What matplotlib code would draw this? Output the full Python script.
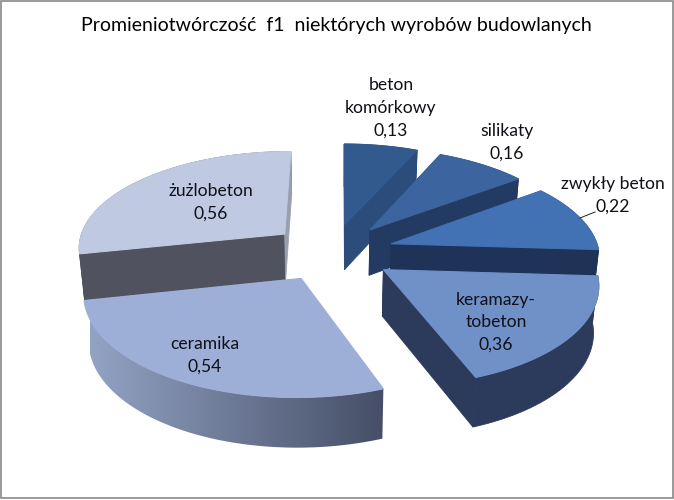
import numpy as np
import matplotlib
matplotlib.use('Agg')
import matplotlib.pyplot as plt
from matplotlib.colors import LinearSegmentedColormap
from matplotlib.patches import Polygon, Rectangle

plt.rcParams['font.family'] = ['Lato', 'DejaVu Sans']

title = 'Promieniotwórczość  f1  niektórych wyrobów budowlanych'
names = ['beton\nkomórkowy', 'silikaty', 'zwykły beton', 'keramazy-\ntobeton', 'ceramika', 'żużlobeton']
values = [0.13, 0.16, 0.22, 0.36, 0.54, 0.56]
value_labels = ['0,13', '0,16', '0,22', '0,36', '0,54', '0,56']

top_colors = ['#335a8e', '#3c659f', '#4272b4', '#7090c8', '#9dafd6', '#bfcae2']
side_colors = ['#2c4c7c', '#233a63', '#1f3358', '#2c3a5c', '#454e66', '#50525f']
# koncowa sciana promieniowa, zuzlobeton ma tam jasny pasek
end_face_colors = ['#2c4c7c', '#233a63', '#1f3358', '#2c3a5c', None, '#9a9fb0']

# srodki etykiet w pikselach
label_pos = [(391, 108), (507, 142), (613, 195), (496, 322), (205, 355), (211, 202)]

# parametry rzutu 3d
cx, cy = 332, 252
rx, ry = 208, 97
explode = 0.30
persp = 0.125
thick = 46
start = 270.3
draw_order = [0, 1, 2, 3, 5, 4]


def project(u, v, bottom=False):
    scale = 1 / (1 - persp * v)
    x = cx + rx * u * scale
    y = cy + ry * v * scale
    if bottom:
        x = cx + (x - cx) * 0.98
        y = y + thick * np.sqrt(scale)
    return x, y


def slice_points(a0, a1, bottom=False):
    mid = np.radians((a0 + a1) / 2)
    t = np.radians(np.linspace(a0, a1, 80))
    ou = explode * np.cos(mid)
    ov = explode * np.sin(mid)
    ax, ay = project(ou, ov, bottom)
    x, y = project(ou + np.cos(t), ov + np.sin(t), bottom)
    return (ax, ay), x, y


fig = plt.figure(figsize=(6.74, 5.0), dpi=100)
ax = fig.add_axes([0, 0, 1, 1])

ends = start + np.cumsum(values) / np.sum(values) * 360
starts = np.concatenate([[start], ends[:-1]])
side_fade = LinearSegmentedColormap.from_list('side_fade', ['#93a3c4', '#454e66'])

for i in draw_order:
    a0, a1 = starts[i], ends[i]
    apex, x, y = slice_points(a0, a1)
    apex_b, xb, yb = slice_points(a0, a1, bottom=True)
    # sciana boczna
    band = np.vstack([np.column_stack([x, y]), np.column_stack([xb, yb])[::-1]])
    if names[i] == 'ceramika':
        patch = Polygon(band, facecolor='none', edgecolor='none')
        ax.add_patch(patch)
        im = ax.imshow(np.linspace(0, 1, 256).reshape(1, -1), cmap=side_fade, aspect='auto',
                       extent=(90, 385, 500, 0), zorder=1)
        im.set_clip_path(patch)
    else:
        ax.add_patch(Polygon(band, facecolor=side_colors[i], edgecolor=side_colors[i], lw=0.6, zorder=1))
    # sciany promieniowe
    for k, col in [(0, side_colors[i]), (-1, end_face_colors[i])]:
        if col is None or names[i] == 'ceramika':
            continue
        ax.add_patch(Polygon([apex, (x[k], y[k]), (xb[k], yb[k]), apex_b],
                             facecolor=col, edgecolor=col, lw=0.6, zorder=1))
    # gora
    ax.add_patch(Polygon(np.vstack([[apex], np.column_stack([x, y])]),
                         facecolor=top_colors[i], edgecolor=top_colors[i], lw=0.8, zorder=1))

for name, val, (lx, ly) in zip(names, value_labels, label_pos):
    ax.text(lx, ly, name + '\n' + val, ha='center', va='center', fontsize=12.6,
            color='#101018', linespacing=1.5, zorder=5)

ax.plot([580, 595], [218, 212], color='#222222', lw=0.7, zorder=5)
ax.text(336, 26, title, ha='center', va='center', fontsize=14, color='black')
ax.add_patch(Rectangle((1, 1), 671.5, 497, fill=False, edgecolor='#888888', lw=1.2, zorder=6))

ax.set_xlim(0, 674)
ax.set_ylim(500, 0)
ax.axis('off')

fig.savefig('out.png', dpi=100)
